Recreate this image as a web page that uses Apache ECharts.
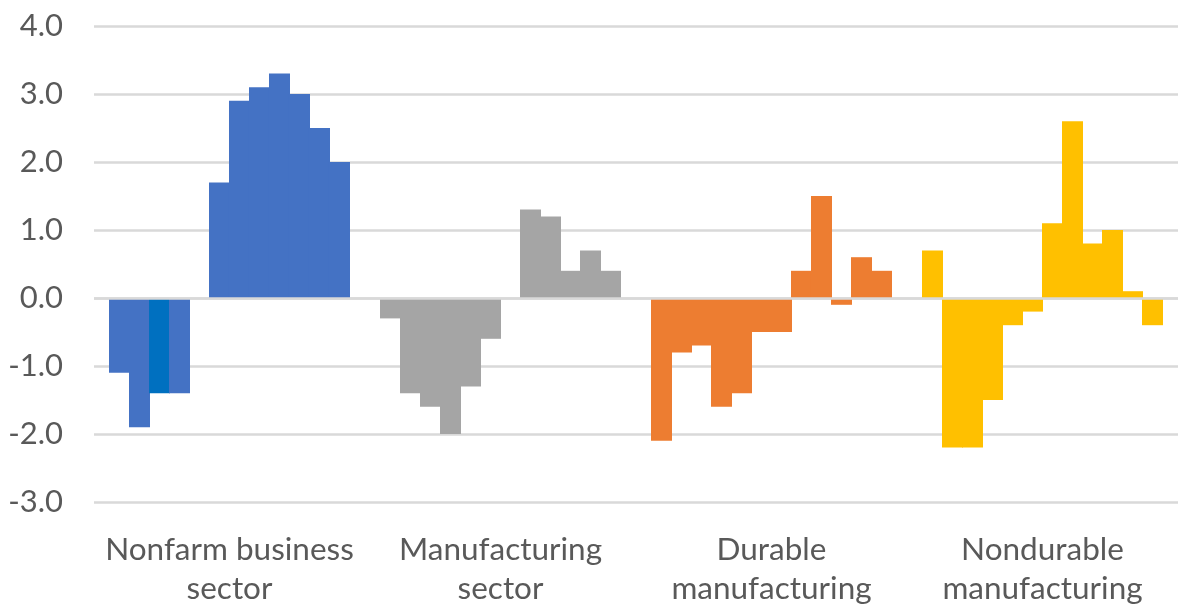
<!DOCTYPE html>
<html>
<head>
<meta charset="utf-8">
<script src="https://cdn.jsdelivr.net/npm/echarts@6/dist/echarts.min.js"></script>
<style>
  html, body { margin: 0; padding: 0; background: #ffffff; }
  #chart { width: 1178px; height: 608px; }
</style>
</head>
<body>
<div id="chart"></div>
<script>
// Sector groups along the category axis
const categories = ['Nonfarm business\nsector', 'Manufacturing\nsector', 'Durable\nmanufacturing', 'Nondurable\nmanufacturing'];

// Twelve consecutive readings per sector (percent)
const nonfarm       = [-1.1, -1.9, -1.4, -1.4, 0.0, 1.7, 2.9, 3.1, 3.3, 3.0, 2.5, 2.0];
const manufacturing = [-0.3, -1.4, -1.6, -2.0, -1.3, -0.6, 0.0, 1.3, 1.2, 0.4, 0.7, 0.4];
const durable       = [-2.1, -0.8, -0.7, -1.6, -1.4, -0.5, -0.5, 0.4, 1.5, -0.1, 0.6, 0.4];
const nondurable    = [0.7, -2.2, -2.2, -1.5, -0.4, -0.2, 1.1, 2.6, 0.8, 1.0, 0.1, -0.4];

// Value axis ticks
const yTicks = { min: -3, max: 4, interval: 1 };

const groupColors = ['#4472C4', '#A5A5A5', '#ED7D31', '#FFC000'];
const accentBlue = '#0070C0';   // third nonfarm reading is highlighted
const gridColor = '#d9d9d9';
const textColor = '#595959';
const fontFamily = 'Lato, "Open Sans", sans-serif';

const sectors = [nonfarm, manufacturing, durable, nondurable];
const periods = nonfarm.length;

// bars are 21px wide and overlap their neighbour by 1px so a group reads as one solid block
const barWidth = 21;
const barGap = (-100 / barWidth).toFixed(3) + '%';

const series = [];
for (let i = 0; i < periods; i++) {
  const s = {
    type: 'bar',
    name: 'P' + (i + 1),
    barWidth: barWidth,
    barGap: barGap,
    animation: false,
    data: sectors.map((vals, c) => ({
      value: vals[i],
      itemStyle: { color: (c === 0 && i === 2) ? accentBlue : groupColors[c] }
    }))
  };
  if (i === periods - 1) {
    // horizontal axis line at zero, drawn over the bars
    s.markLine = {
      silent: true,
      symbol: ['none', 'none'],
      label: { show: false },
      lineStyle: { color: gridColor, width: 2.5, type: 'solid' },
      data: [{ yAxis: 0 }],
      animation: false
    };
  }
  series.push(s);
}

const chart = echarts.init(document.getElementById('chart'), null, { renderer: 'canvas' });
chart.setOption({
  backgroundColor: '#ffffff',
  animation: false,
  grid: { left: 94, top: 26, width: 1086, height: 479.5, containLabel: false },
  xAxis: {
    type: 'category',
    data: categories,
    axisLine: { show: false, onZero: false },
    axisTick: { show: false },
    splitLine: { show: false },
    axisLabel: {
      interval: 0,
      color: textColor,
      fontFamily: fontFamily,
      fontSize: 31.5,
      lineHeight: 39,
      margin: 28
    }
  },
  yAxis: {
    type: 'value',
    min: yTicks.min,
    max: yTicks.max,
    interval: yTicks.interval,
    axisLine: { show: false },
    axisTick: { show: false },
    splitLine: { lineStyle: { color: gridColor, width: 2.5 } },
    axisLabel: {
      color: textColor,
      fontFamily: fontFamily,
      fontSize: 31,
      margin: 31,
      padding: [0, 0, 7, 0],
      formatter: v => v.toFixed(1)
    }
  },
  series: series
});
</script>
</body>
</html>
